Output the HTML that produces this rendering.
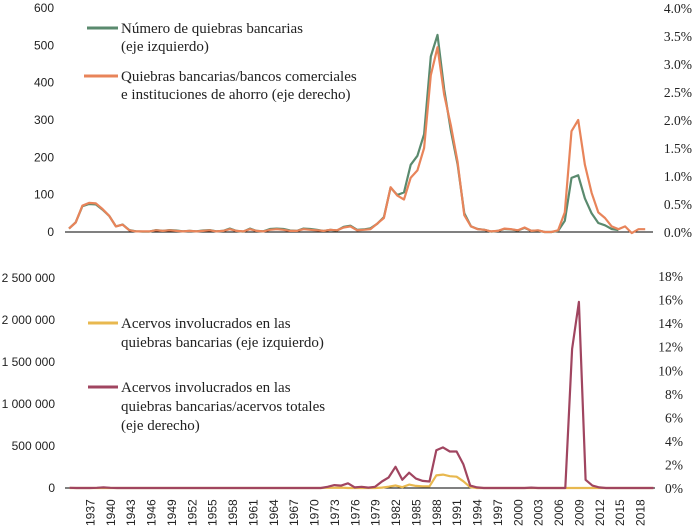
<!DOCTYPE html>
<html><head><meta charset="utf-8"><style>
body{margin:0;background:#fff;width:693px;height:526px;overflow:hidden}
svg{display:block}
.s{font-family:"Liberation Sans",sans-serif;font-size:12px;fill:#222}
.r{font-family:"Liberation Serif",serif;font-size:13.5px;fill:#222}
.l{font-family:"Liberation Serif",serif;font-size:15px;fill:#222}
</style></head><body>
<svg id="c" width="693" height="526" xmlns="http://www.w3.org/2000/svg">
<g id="g"></g>
<text class="l" x="121" y="33">Número de quiebras bancarias</text>
<text class="l" x="121" y="51">(eje izquierdo)</text>
<text class="l" x="121" y="81">Quiebras bancarias/bancos comerciales</text>
<text class="l" x="121" y="99">e instituciones de ahorro (eje derecho)</text>
<line x1="87" y1="28" x2="118" y2="28" stroke="#5a8a6e" stroke-width="3"/>
<line x1="84" y1="76" x2="118" y2="76" stroke="#e8845a" stroke-width="3"/>
<text class="l" x="121" y="328">Acervos involucrados en las</text>
<text class="l" x="121" y="347">quiebras bancarias (eje izquierdo)</text>
<text class="l" x="121" y="392">Acervos involucrados en las</text>
<text class="l" x="121" y="411">quiebras bancarias/acervos totales</text>
<text class="l" x="121" y="430">(eje derecho)</text>
<line x1="88" y1="323" x2="118" y2="323" stroke="#e8b84f" stroke-width="3"/>
<line x1="88" y1="387" x2="118" y2="387" stroke="#a04560" stroke-width="3"/>
</svg>
<script>
var g=document.getElementById('g'),NS="http://www.w3.org/2000/svg";
function el(t,a,txt){var e=document.createElementNS(NS,t);for(var k in a)e.setAttribute(k,a[k]);if(txt!=null)e.textContent=txt;g.appendChild(e);return e;}
var L=[0,100,200,300,400,500,600];
L.forEach(function(v){el('text',{class:'s',x:54,y:232-v*0.3733+4,'text-anchor':'end'},String(v));});
for(var i=0;i<=8;i++){el('text',{class:'r',x:692,y:232-i*28+5,'text-anchor':'end'},(i*0.5).toFixed(1)+'%');}
el('line',{x1:65,y1:232,x2:653,y2:232,stroke:'#000','stroke-width':1});
var B=['0','500 000','1 000 000','1 500 000','2 000 000','2 500 000'];
B.forEach(function(t,i){el('text',{class:'s',x:55,y:488-i*42+4,'text-anchor':'end'},t);});
for(var i=0;i<=9;i++){el('text',{class:'r',x:683,y:488-i*23.55+5,'text-anchor':'end'},(i*2)+'%');}
el('line',{x1:65,y1:488,x2:655,y2:488,stroke:'#000','stroke-width':1});
for(var y=1937;y<=2018;y+=3){var x=90+(y-1937)*6.79;
 el('text',{class:'s',x:0,y:0,transform:'translate('+(x+4.5)+',526) rotate(-90)','font-size':'12'},String(y));}
function path(vals,fx,fy,col,w){var d='';vals.forEach(function(v,i){if(v==null)return;d+=(d?'L':'M')+fx(i).toFixed(1)+','+fy(v).toFixed(1);});el('path',{d:d,fill:'none',stroke:col,'stroke-width':w,'stroke-linejoin':'round'});}
var cnt=[9,26,69,75,74,60,43,15,20,5,2,1,1,5,3,5,4,2,3,2,4,5,2,3,9,3,1,9,3,2,8,9,8,4,3,9,8,6,3,6,4,14,17,6,7,10,22,40,119,99,106,180,204,262,470,528,382,271,181,50,15,8,6,1,3,8,7,4,11,3,4,0,0,3,30,145,152,90,50,24,18,8,5];
var pct=[0.06,0.17,0.47,0.52,0.51,0.41,0.29,0.1,0.13,0.03,0.01,0.01,0.01,0.03,0.02,0.03,0.02,0.01,0.02,0.01,0.02,0.03,0.01,0.02,0.05,0.02,0.01,0.05,0.02,0.01,0.04,0.05,0.04,0.02,0.02,0.05,0.04,0.03,0.02,0.04,0.03,0.08,0.1,0.03,0.04,0.05,0.15,0.25,0.8,0.65,0.58,0.97,1.1,1.5,2.8,3.3,2.45,1.9,1.25,0.3,0.1,0.05,0.04,0.01,0.02,0.06,0.05,0.03,0.08,0.02,0.03,0,0,0.03,0.35,1.8,2.0,1.2,0.7,0.35,0.25,0.1,0.05,0.1,-0.02,0.05,0.05];
var fxT=function(i){return 69+i*6.7;};
path(cnt,fxT,function(v){return 232-v*0.3733;},'#5a8a6e',2.2);
path(pct,fxT,function(v){return 232-v*56;},'#e8845a',2.2);
var assets=[],bp=[];
for(var y=1934;y<=2020;y++){assets.push(0);bp.push(0);}
var A={1972:3000,1973:2000,1974:5000,1980:5000,1981:15000,1982:30000,1983:10000,1984:40000,1985:25000,1986:20000,1987:20000,1988:150000,1989:160000,1990:140000,1991:135000,1992:80000,1993:10000};
var P={1934:0.02,1938:0.02,1939:0.05,1940:0.02,1972:0.1,1973:0.25,1974:0.2,1975:0.4,1976:0.05,1977:0.1,1978:0.03,1979:0.1,1980:0.55,1981:0.9,1982:1.8,1983:0.7,1984:1.3,1985:0.8,1986:0.6,1987:0.55,1988:3.2,1989:3.45,1990:3.1,1991:3.1,1992:2.0,1993:0.2,1994:0.05,2002:0.03,2008:11.8,2009:15.8,2010:0.7,2011:0.2,2012:0.05};
for(var k in A)assets[k-1934]=A[k];for(var k in P)bp[k-1934]=P[k];
var fxB=function(i){return 69.6+i*6.79;};
path(assets,fxB,function(v){return 488-v*0.000084;},'#e8b84f',2.2);
path(bp,fxB,function(v){return 488-v*11.78;},'#a04560',2.2);
</script>
</body></html>
